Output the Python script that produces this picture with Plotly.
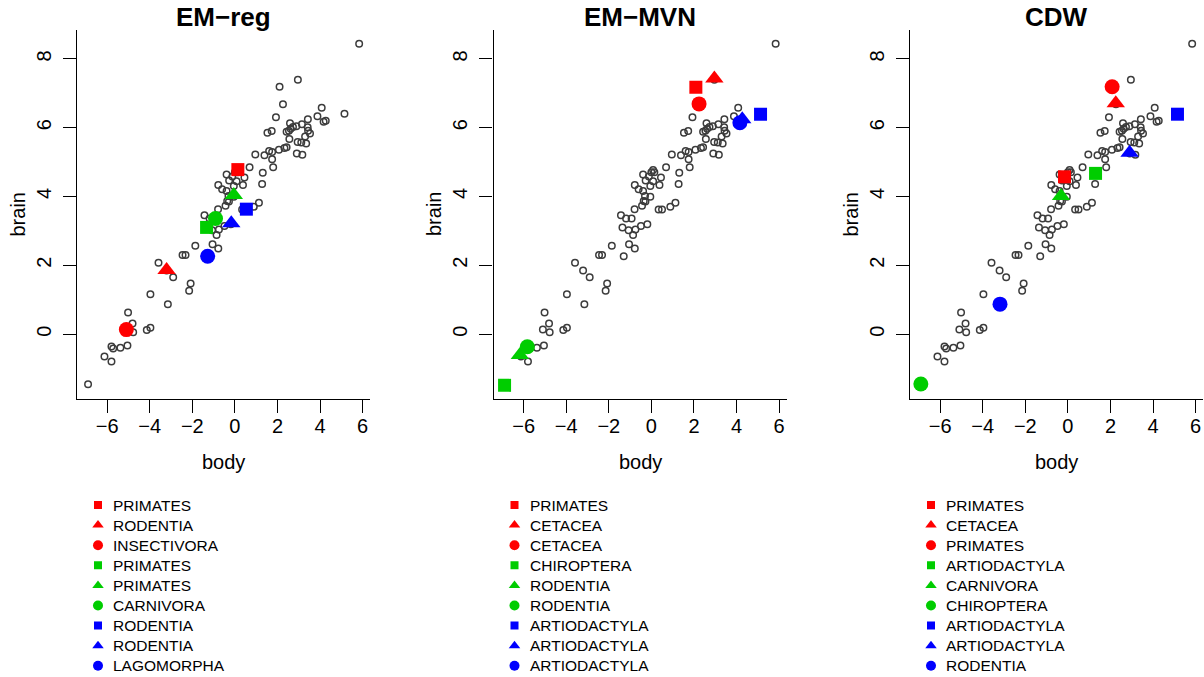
import plotly.graph_objects as go

# ---------------- data ----------------
body = [-6.90, -6.13, -5.80, -5.80, -5.72, -5.38, -5.05, -5.10, -4.78, -4.81, -5.02, -4.14, -3.97,
        -3.15, -3.97, -2.15, -2.08, -2.90, -3.21, -3.59, -2.46, -2.32, -1.86, -1.30, -1.05, -0.78,
        -0.86, -1.36, -1.07, -0.75, -0.49, -0.19, -1.43, -1.19, -0.93, -0.79, -0.44, -0.28, 0.34,
        0.50, 0.89, 1.13, -0.36, -0.30, -0.05, -0.60, -0.39, -0.78, -0.05, 0.38, -0.27, 0.08,
        -0.39, -0.12, 0.45, 0.08, 0.00, 0.14, 0.69, 1.31, 1.28, 1.80,
        0.96, 1.39, 1.61, 1.75, 1.75, 2.07, 2.33, 2.43, 2.91, 3.17, 1.53, 1.73, 2.56, 2.95, 3.12,
        3.35, 3.30, 2.54, 2.43, 2.62, 2.59, 2.73, 2.89, 3.15, 3.43, 3.42, 3.44, 3.53, 1.93, 3.88,
        4.17, 4.27, 4.08, 5.15, 2.26, 2.10, 2.96, 5.84]
brain = [-1.46, -0.65, -0.80, -0.36, -0.42, -0.40, -0.33, 0.13, 0.05, 0.31, 0.63, 0.12, 0.18,
         0.87, 1.16, 1.26, 1.47, 1.65, 1.85, 2.07, 2.30, 2.30, 2.57, 2.26, 2.61, 2.49,
         2.88, 3.10, 3.02, 3.04, 3.14, 3.19, 3.45, 3.36, 3.36, 3.63, 3.73, 3.85, 3.62,
         3.62, 3.70, 3.82, 3.87, 4.01, 3.99, 4.21, 4.16, 4.33, 4.30, 4.33, 4.46, 4.44,
         4.64, 4.58, 4.55, 4.77, 4.70, 4.70, 4.85, 4.69, 4.36, 4.85,
         5.22, 5.20, 5.32, 5.29, 5.08, 5.36, 5.41, 5.43, 5.25, 5.21, 5.85, 5.90, 5.67, 5.58, 5.57,
         5.54, 5.74, 5.91, 5.88, 5.97, 6.13, 6.02, 6.04, 6.10, 6.24, 6.01, 5.91, 5.83, 6.30, 6.33,
         6.17, 6.20, 6.58, 6.40, 6.68, 7.19, 7.39, 8.44]

titles = ["EM\u2212reg", "EM\u2212MVN", "CDW"]

reg_body = [0.14, -3.21, -5.10, -1.33, -0.05, -0.91, 0.54, -0.17, -1.28]
reg_brain = [4.78, 1.86, 0.13, 3.10, 4.04, 3.36, 3.63, 3.22, 2.26]
reg_labels = ["PRIMATES", "RODENTIA", "INSECTIVORA", "PRIMATES", "PRIMATES", "CARNIVORA",
              "RODENTIA", "RODENTIA", "LAGOMORPHA"]

mvn_body = [2.09, 2.96, 2.24, -6.90, -6.18, -5.83, 5.13, 4.27, 4.16]
mvn_brain = [7.17, 7.43, 6.69, -1.49, -0.61, -0.37, 6.39, 6.24, 6.14]
mvn_labels = ["PRIMATES", "CETACEA", "CETACEA", "CHIROPTERA", "RODENTIA", "RODENTIA",
              "ARTIODACTYLA", "ARTIODACTYLA", "ARTIODACTYLA"]

cdw_body = [-0.16, 2.25, 2.08, 1.30, -0.32, -6.91, 5.15, 2.90, -3.19]
cdw_brain = [4.57, 6.71, 7.19, 4.67, 4.01, -1.45, 6.39, 5.27, 0.87]
cdw_labels = ["PRIMATES", "CETACEA", "PRIMATES", "ARTIODACTYLA", "CARNIVORA", "CHIROPTERA",
              "ARTIODACTYLA", "ARTIODACTYLA", "RODENTIA"]

x_ticks = [-6, -4, -2, 0, 2, 4, 6]
y_ticks = [0, 2, 4, 6, 8]

# ---------------- style ----------------
W, H = 1204, 677
FONT = "Liberation Sans, Arial, Helvetica, sans-serif"
point_colors = ["#FF0000"] * 3 + ["#00CD00"] * 3 + ["#0000FF"] * 3
point_symbols = ["square", "triangle-up", "circle"] * 3
point_sizes = [13, 16, 15] * 3
leg_sizes = [8, 10, 10] * 3

panels = [(reg_body, reg_brain, reg_labels),
          (mvn_body, mvn_brain, mvn_labels),
          (cdw_body, cdw_brain, cdw_labels)]

# R-style 4% range extension
all_x = body + reg_body + mvn_body + cdw_body
all_y = brain + reg_brain + mvn_brain + cdw_brain
dx = (max(all_x) - min(all_x)) * 0.04
dy = (max(all_y) - min(all_y)) * 0.04
xr = [min(all_x) - dx, max(all_x) + dx]
yr = [min(all_y) - dy, max(all_y) + dy]

panel_x0 = [77, 493.5, 910]
panel_w = 293
plot_top, plot_bot = 30, 399

def px(v):
    return v / W

def py(v):
    return 1 - v / H

fig = go.Figure()
annotations = []

for i, (hb, hy, labels) in enumerate(panels):
    k = i + 1
    xa = "x" if k == 1 else f"x{k}"
    ya = "y" if k == 1 else f"y{k}"
    x0 = panel_x0[i]
    # cloud
    fig.add_trace(go.Scatter(
        x=body, y=brain, mode="markers", xaxis=xa, yaxis=ya, showlegend=False,
        marker=dict(symbol="circle-open", size=6.5, color="#3c3c3c", opacity=1,
                    line=dict(width=1.5, color="#3c3c3c")),
        hoverinfo="skip"))
    # highlighted
    for j in range(len(hb)):
        fig.add_trace(go.Scatter(
            x=[hb[j]], y=[hy[j]], mode="markers", xaxis=xa, yaxis=ya, showlegend=False,
            marker=dict(symbol=point_symbols[j], size=point_sizes[j], color=point_colors[j],
                        opacity=1, line=dict(width=0)),
            hoverinfo="skip"))
    common = dict(showline=True, linecolor="black", linewidth=1.2, ticks="outside", ticklen=13,
                  tickwidth=1.2, tickcolor="black", showgrid=False, zeroline=False,
                  tickfont=dict(family=FONT, size=20, color="black"), fixedrange=True)
    fig.update_layout(**{
        ("xaxis" if k == 1 else f"xaxis{k}"): dict(
            domain=[px(x0), px(x0 + panel_w)], range=xr, tickvals=x_ticks, anchor=ya,
            ticklabelstandoff=-4, **common),
        ("yaxis" if k == 1 else f"yaxis{k}"): dict(
            domain=[py(plot_bot), py(plot_top)], range=yr, tickvals=y_ticks, anchor=xa,
            tickangle=-90, ticklabelstandoff=4, **common),
    })
    cx = x0 + panel_w / 2
    annotations.append(dict(text="<b>%s</b>" % titles[i], x=px(cx), y=py(16.5), xref="paper",
                            yref="paper", xanchor="center", yanchor="middle", showarrow=False,
                            font=dict(family=FONT, size=26, color="black")))
    annotations.append(dict(text="body", x=px(cx), y=py(462), xref="paper", yref="paper",
                            xanchor="center", yanchor="middle", showarrow=False,
                            font=dict(family=FONT, size=20, color="black")))
    annotations.append(dict(text="brain", x=px(x0 - 60), y=py((plot_top + plot_bot) / 2),
                            xref="paper", yref="paper", xanchor="center", yanchor="middle",
                            textangle=-90, showarrow=False,
                            font=dict(family=FONT, size=20, color="black")))

    # legend block (hidden axes, one unit per row)
    lk = k + 3
    lxa, lya = f"x{lk}", f"y{lk}"
    rows = list(range(len(labels)))
    mx = x0 + 21
    fig.add_trace(go.Scatter(
        x=[0] * len(rows), y=rows, mode="markers", xaxis=lxa, yaxis=lya, showlegend=False,
        marker=dict(symbol=point_symbols, size=leg_sizes, color=point_colors, opacity=1,
                    line=dict(width=0)),
        hoverinfo="skip"))
    row_h = 20.1
    top = 505 - 0.5 * row_h
    bot = 505 + (len(rows) - 0.5) * row_h
    fig.update_layout(**{
        f"xaxis{lk}": dict(domain=[px(mx - 20), px(mx + 180)], range=[-20, 180], visible=False,
                           anchor=lya, fixedrange=True),
        f"yaxis{lk}": dict(domain=[py(bot), py(top)], range=[len(rows) - 0.5, -0.5],
                           visible=False, anchor=lxa, fixedrange=True),
    })
    for r, lab in zip(rows, labels):
        annotations.append(dict(text=lab, x=px(mx + 13), y=r, xref="paper", yref=lya,
                                xanchor="left", yanchor="middle", showarrow=False,
                                font=dict(family=FONT, size=15.5, color="black")))

fig.update_layout(width=W, height=H, margin=dict(l=0, r=0, t=0, b=0),
                  paper_bgcolor="white", plot_bgcolor="white",
                  annotations=annotations, showlegend=False)

fig.write_html("out.html")
